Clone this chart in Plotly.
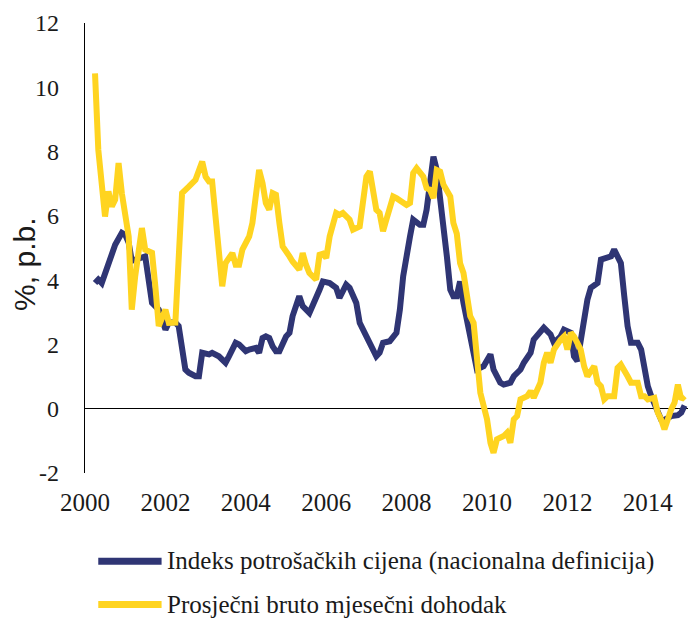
import plotly.graph_objects as go

# Indeks potrošačkih cijena (nacionalna definicija), god. promjena u %
cpi_dates = [
    "2000-04", "2000-05", "2000-06", "2000-07", "2000-09", "2000-10", "2000-12",
    "2001-01", "2001-02", "2001-03", "2001-07", "2001-08", "2001-09", "2001-11",
    "2002-01", "2002-02", "2002-04", "2002-05", "2002-06", "2002-07", "2002-08", "2002-10", "2002-11", "2002-12",
    "2003-02", "2003-03", "2003-05", "2003-07", "2003-08", "2003-10", "2003-11",
    "2004-01", "2004-02", "2004-04", "2004-05", "2004-06", "2004-07", "2004-08", "2004-09", "2004-10", "2004-11",
    "2005-01", "2005-02", "2005-03", "2005-05", "2005-06", "2005-08", "2005-09", "2005-11", "2005-12",
    "2006-02", "2006-04", "2006-05", "2006-07", "2006-08", "2006-10", "2006-11",
    "2007-01", "2007-02", "2007-04", "2007-05", "2007-06", "2007-08", "2007-10", "2007-11", "2007-12",
    "2008-02", "2008-03", "2008-05", "2008-06", "2008-07", "2008-08", "2008-09", "2008-10", "2008-11", "2008-12",
    "2009-01", "2009-02", "2009-03", "2009-04", "2009-05", "2009-06", "2009-08", "2009-09", "2009-10", "2009-12",
    "2010-02", "2010-03", "2010-05", "2010-06", "2010-08", "2010-09", "2010-11", "2010-12",
    "2011-02", "2011-03", "2011-05", "2011-06", "2011-08", "2011-09", "2011-11", "2011-12",
    "2012-02", "2012-03", "2012-04", "2012-05", "2012-07", "2012-08", "2012-10", "2012-11",
    "2013-01", "2013-02", "2013-03", "2013-05", "2013-06", "2013-07", "2013-08", "2013-10", "2013-11", "2013-12",
    "2014-01", "2014-02", "2014-04", "2014-05", "2014-06", "2014-08", "2014-10", "2014-11", "2014-12",
]
cpi_values = [
    3.91, 4.02, 3.91, 4.22, 4.84, 5.10, 5.47,
    5.41, 5.16, 4.60, 4.74, 3.91, 3.29, 3.08,
    2.46, 2.68, 2.68, 2.57, 1.84, 1.22, 1.12, 1.01, 1.01, 1.74,
    1.69, 1.74, 1.63, 1.43, 1.63, 2.05, 2.00,
    1.79, 1.84, 1.89, 1.74, 2.20, 2.25, 2.20, 1.94, 1.79, 1.79,
    2.25, 2.36, 2.88, 3.50, 3.19, 2.98, 3.19, 3.70, 3.96,
    3.91, 3.76, 3.45, 3.86, 3.76, 3.29, 2.67,
    2.25, 2.05, 1.63, 1.74, 2.05, 2.10, 2.36, 3.08, 4.12,
    5.36, 5.88, 5.72, 5.72, 6.19, 7.22, 7.84, 7.43, 6.60, 5.67,
    4.74, 3.70, 3.50, 3.50, 3.96, 3.29, 2.25, 1.74, 1.22, 1.32,
    1.69, 1.22, 0.81, 0.75, 0.81, 1.01, 1.22, 1.43,
    1.74, 2.15, 2.41, 2.52, 2.31, 2.05, 2.25, 2.46,
    2.36, 1.63, 1.48, 2.15, 3.39, 3.76, 3.91, 4.64,
    4.69, 4.74, 4.95, 4.53, 3.50, 2.57, 2.05, 2.05, 1.84, 1.22,
    0.70, 0.39, -0.02, -0.33, -0.35, -0.23, -0.20, -0.12, 0.10,
]

# Prosječni bruto mjesečni dohodak, god. promjena u %
wage_dates = [
    "2000-04", "2000-05", "2000-07", "2000-08", "2000-09", "2000-10", "2000-11", "2000-12",
    "2001-02", "2001-03", "2001-04", "2001-06", "2001-07", "2001-09", "2001-10", "2001-11",
    "2002-01", "2002-02", "2002-04", "2002-05", "2002-06", "2002-08", "2002-10", "2002-12",
    "2003-01", "2003-02", "2003-03", "2003-06", "2003-07", "2003-09", "2003-10", "2003-11", "2003-12",
    "2004-02", "2004-03", "2004-05", "2004-06", "2004-07", "2004-08", "2004-09", "2004-10", "2004-11", "2004-12",
    "2005-02", "2005-03", "2005-05", "2005-06", "2005-07", "2005-08", "2005-10", "2005-11", "2005-12",
    "2006-01", "2006-02", "2006-04", "2006-05", "2006-06", "2006-08", "2006-09", "2006-11", "2006-12",
    "2007-01", "2007-02", "2007-03", "2007-04", "2007-05", "2007-06", "2007-07", "2007-09", "2007-10", "2007-12",
    "2008-01", "2008-02", "2008-03", "2008-04", "2008-06", "2008-07", "2008-08", "2008-09", "2008-10", "2008-11", "2008-12",
    "2009-02", "2009-03", "2009-04", "2009-05", "2009-06", "2009-07", "2009-08", "2009-09", "2009-10", "2009-11",
    "2010-01", "2010-02", "2010-03", "2010-04", "2010-06", "2010-07", "2010-08", "2010-09", "2010-10", "2010-11",
    "2011-01", "2011-02", "2011-03", "2011-05", "2011-06", "2011-07", "2011-08", "2011-09", "2011-11", "2011-12",
    "2012-01", "2012-02", "2012-03", "2012-05", "2012-06", "2012-07", "2012-09", "2012-10", "2012-11", "2012-12",
    "2013-01", "2013-03", "2013-04", "2013-05", "2013-07", "2013-08", "2013-10", "2013-11", "2013-12",
    "2014-01", "2014-03", "2014-04", "2014-05", "2014-06", "2014-08", "2014-09", "2014-10", "2014-11", "2014-12",
]
wage_values = [
    10.43, 8.05, 5.98, 6.76, 6.29, 6.50, 7.64, 6.70,
    5.36, 3.08, 4.12, 5.62, 4.95, 4.85, 3.81, 2.57,
    3.08, 2.67, 2.68, 4.95, 6.71, 6.91, 7.12, 7.69,
    7.22, 7.07, 7.07, 3.81, 4.53, 4.84, 4.48, 4.48, 4.95,
    5.36, 5.78, 7.43, 7.02, 6.40, 6.19, 6.71, 6.66, 5.78, 5.05,
    4.74, 4.58, 4.33, 4.84, 4.48, 4.22, 4.02, 4.79, 4.82,
    4.69, 5.36, 6.09, 6.03, 6.09, 5.88, 5.57, 5.67, 6.60,
    7.22, 7.38, 6.81, 6.19, 6.09, 5.52, 5.88, 6.60, 6.55, 6.40,
    6.34, 6.40, 7.33, 7.48, 7.22, 6.86, 6.81, 6.55, 7.43, 7.38, 6.97,
    6.60, 5.78, 5.45, 4.53, 4.22, 3.60, 2.88, 2.67, 1.32, 0.50,
    -0.33, -1.06, -1.37, -0.95, -0.85, -0.75, -1.06, -0.33, -0.23, 0.29,
    0.39, 0.55, 0.34, 0.81, 1.43, 1.74, 1.43, 1.84, 2.15, 2.25,
    1.84, 2.36, 2.25, 1.84, 1.32, 1.01, 1.32, 0.81, 0.70, 0.29,
    0.39, 0.39, 1.27, 1.37, 1.01, 0.81, 0.81, 0.39, 0.39,
    0.29, 0.34, -0.12, -0.33, -0.64, -0.02, 0.19, 0.75, 0.29, 0.39,
]

series_names = [
    "Indeks potrošačkih cijena (nacionalna definicija)",
    "Prosječni bruto mjesečni dohodak",
]
series_colors = ["#2f3574", "#ffd420"]
y_ticks = [-2, 0, 2, 4, 6, 8, 10, 12]
y_labels = ["-2", "0", "2", "4", "6", "8", "10", "12"]
x_ticks = ["2000", "2002", "2004", "2006", "2008", "2010", "2012", "2014"]

serif = "Liberation Serif, Times New Roman, serif"
text_col = "#1a1a1a"

fig = go.Figure()
fig.add_trace(go.Scatter(x=cpi_dates, y=cpi_values, mode="lines",
                         line=dict(color=series_colors[0], width=6),
                         name=series_names[0], showlegend=False))
fig.add_trace(go.Scatter(x=wage_dates, y=wage_values, mode="lines",
                         line=dict(color=series_colors[1], width=6),
                         name=series_names[1], showlegend=False))

# legend drawn by hand so the key lines are as long as in the original
legend_y = [-0.196, -0.292]
for i in range(2):
    fig.add_shape(type="line", xref="paper", yref="paper",
                  x0=0.022, x1=0.127, y0=legend_y[i], y1=legend_y[i],
                  line=dict(color=series_colors[i], width=7))
    fig.add_annotation(xref="paper", yref="paper", x=0.133, y=legend_y[i],
                       xanchor="left", yanchor="middle", showarrow=False,
                       text=series_names[i],
                       font=dict(family=serif, size=25, color=text_col))

fig.add_annotation(xref="paper", yref="paper", x=-0.100, y=0.464,
                   xanchor="center", yanchor="middle", showarrow=False,
                   textangle=-90, text="%, p.b.",
                   font=dict(family="Liberation Sans, Arial, sans-serif", size=30, color=text_col))

fig.update_layout(
    width=691, height=618,
    margin=dict(l=85, r=3, t=23, b=145),
    paper_bgcolor="white", plot_bgcolor="white",
    xaxis=dict(
        range=["2000-01-01", "2015-01-01"],
        tickvals=[y + "-01-01" for y in x_ticks], ticktext=x_ticks,
        showgrid=False, zeroline=False, showline=False, ticks="",
        ticklabelstandoff=12,
        tickfont=dict(family=serif, size=25, color=text_col),
    ),
    yaxis=dict(
        range=[-2, 12], tickvals=y_ticks, ticktext=y_labels,
        showgrid=False, showline=True, linecolor="black", linewidth=1.3,
        zeroline=True, zerolinecolor="black", zerolinewidth=1.3,
        ticks="", ticklabelstandoff=20,
        tickfont=dict(family=serif, size=24, color=text_col),
    ),
)

# the page body has a default 8px margin; drop it so the figure fills the window
fig.write_html("out.html", config={"displayModeBar": False},
               post_script="document.body.style.margin = '0';")
